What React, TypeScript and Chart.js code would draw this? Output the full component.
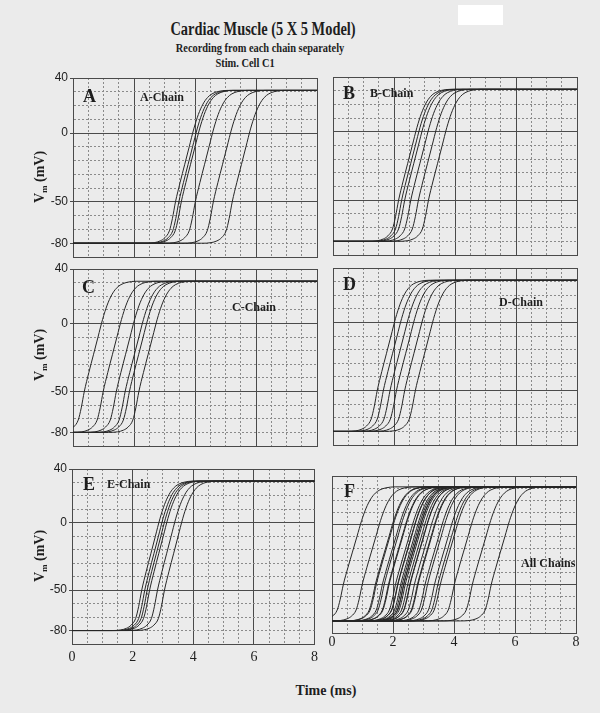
import React, { useEffect, useRef } from "react";
import { Chart, registerables } from "chart.js";
Chart.register(...registerables);

// ---------- data ----------
const TIME_MIN = 0;
const TIME_MAX = 8;
const TIME_STEP = 0.5;
const VM_MIN = -90;
const VM_MAX = 40;
const VM_STEP = 10;
const TIME_TICK_LABELS = [0, 2, 4, 6, 8];
const VM_TICK_LABELS = [40, 0, -50, -80];
const TIME_MAJOR_LINES = [0, 2, 4, 6, 8];
const VM_MAJOR_LINES = [40, 0, -50, -90];

const REST_MV = -80;
const PLATEAU_MV = 31;
// upstroke shape (time relative to the half-way crossing, ms) and membrane potential (mV)
const UPSTROKE_DT_MS = [-1.3, -1.0, -0.8, -0.65, -0.5, -0.4, -0.3, -0.15, 0, 0.15, 0.3, 0.45, 0.6, 0.75, 0.9, 1.1, 1.4];
const UPSTROKE_MV = [-80, -79.6, -78.3, -76, -71, -62, -50, -36, -23, -10, 3, 13.5, 21, 25.8, 28.5, 30.2, 31];

// half-way crossing time (ms) of each cell's upstroke, per chain
const A_CHAIN_TIMES = [3.66, 3.77, 3.85, 4.31, 4.9, 5.52];
const B_CHAIN_TIMES = [2.45, 2.55, 2.65, 2.85, 3.1, 3.43];
const C_CHAIN_TIMES = [0.67, 1.29, 1.72, 2.01, 2.15, 2.46];
const D_CHAIN_TIMES = [1.75, 1.95, 2.17, 2.38, 2.65, 3.0];
const E_CHAIN_TIMES = [2.6, 2.7, 2.78, 2.86, 3.12, 3.35];
const ALL_CHAIN_TIMES = [...A_CHAIN_TIMES, ...B_CHAIN_TIMES, ...C_CHAIN_TIMES, ...D_CHAIN_TIMES, ...E_CHAIN_TIMES];

// ---------- styles ----------
const BG = "#ebebeb";
const INK = "#1e1e1e";
const CURVE = "#262626";
const MAJOR_GRID = "#4a4a4a";
const MINOR_GRID = "#8a8a8a";
const SERIF = '"Liberation Serif", "Times New Roman", serif';
const SANS = '"Liberation Sans", Arial, sans-serif';

const PAD_L = 60;
const PAD_R = 8;
const PAD_T = 10;
const PAD_B = 26;

function buildSeries(t: number) {
  const pts: { x: number; y: number }[] = [];
  if (t + UPSTROKE_DT_MS[0] > TIME_MIN) pts.push({ x: TIME_MIN, y: REST_MV });
  UPSTROKE_DT_MS.forEach((dt, i) => pts.push({ x: t + dt, y: UPSTROKE_MV[i] }));
  pts.push({ x: TIME_MAX, y: PLATEAU_MV });
  return pts;
}

type Rect = { left: number; top: number; width: number; height: number };

function Panel(props: { times: number[]; rect: Rect; yLabels: boolean; xLabels: boolean; xPad: number }) {
  const ref = useRef<HTMLCanvasElement | null>(null);
  const { times, rect, yLabels, xLabels, xPad } = props;
  const w = rect.width + PAD_L + PAD_R;
  const h = rect.height + PAD_T + PAD_B;
  useEffect(() => {
    if (!ref.current) return;
    const isMajorX = (v: number) => TIME_MAJOR_LINES.includes(v);
    const isMajorY = (v: number) => VM_MAJOR_LINES.includes(v);
    const chart = new Chart(ref.current, {
      type: "line",
      data: {
        datasets: times.map((t) => ({
          data: buildSeries(t),
          borderColor: CURVE,
          borderWidth: 1,
          pointRadius: 0,
          fill: false,
          cubicInterpolationMode: "monotone" as const,
        })),
      },
      options: {
        animation: false,
        responsive: false,
        maintainAspectRatio: false,
        events: [],
        layout: { padding: { left: 0, right: PAD_R, top: PAD_T, bottom: 0 } },
        plugins: { legend: { display: false }, tooltip: { enabled: false }, title: { display: false } },
        scales: {
          x: {
            type: "linear",
            min: TIME_MIN,
            max: TIME_MAX,
            afterFit: (s: any) => {
              s.height = PAD_B;
            },
            ticks: {
              display: xLabels,
              stepSize: TIME_STEP,
              autoSkip: false,
              maxRotation: 0,
              padding: xPad,
              color: INK,
              font: { family: SERIF, size: 14 },
              callback: (v: any) => (TIME_TICK_LABELS.includes(Number(v)) ? String(v) : ""),
            },
            grid: {
              drawTicks: false,
              lineWidth: 1,
              color: (ctx: any) => (ctx.tick && isMajorX(ctx.tick.value) ? MAJOR_GRID : MINOR_GRID),
            },
            border: {
              display: true,
              color: MAJOR_GRID,
              dash: (ctx: any) => (ctx.type === "tick" && ctx.tick && !isMajorX(ctx.tick.value) ? [2, 2] : []),
            },
          },
          y: {
            type: "linear",
            min: VM_MIN,
            max: VM_MAX,
            afterFit: (s: any) => {
              s.width = PAD_L;
            },
            ticks: {
              display: yLabels,
              stepSize: VM_STEP,
              autoSkip: false,
              padding: 2,
              color: INK,
              font: { family: SANS, size: 12 },
              callback: (v: any) => (VM_TICK_LABELS.includes(Number(v)) ? String(v) : ""),
            },
            grid: {
              drawTicks: yLabels,
              tickLength: 3,
              tickColor: (ctx: any) => (ctx.tick && VM_TICK_LABELS.includes(ctx.tick.value) ? MAJOR_GRID : "rgba(0,0,0,0)"),
              lineWidth: 1,
              color: (ctx: any) => (ctx.tick && isMajorY(ctx.tick.value) ? MAJOR_GRID : MINOR_GRID),
            },
            border: {
              display: true,
              color: MAJOR_GRID,
              dash: (ctx: any) => (ctx.type === "tick" && ctx.tick && !isMajorY(ctx.tick.value) ? [2, 2] : []),
            },
          },
        },
      } as any,
    });
    return () => chart.destroy();
  }, []);
  return (
    <canvas
      ref={ref}
      width={w}
      height={h}
      style={{ position: "absolute", left: rect.left - PAD_L, top: rect.top - PAD_T, width: w, height: h }}
    />
  );
}

function Txt(props: { x: number; y: number; size: number; children: any; center?: boolean; sx?: number; bold?: boolean }) {
  const { x, y, size, center, sx = 1, bold = true } = props;
  return (
    <div
      style={{
        position: "absolute",
        left: x,
        top: y,
        transform: `translate(${center ? "-50%" : "0"}, -50%) scaleX(${sx})`,
        transformOrigin: center ? "50% 50%" : "0 50%",
        fontFamily: SERIF,
        fontWeight: bold ? 700 : 400,
        fontSize: size,
        lineHeight: 1,
        whiteSpace: "nowrap",
        color: INK,
      }}
    >
      {props.children}
    </div>
  );
}

function YTitle(props: { y: number }) {
  return (
    <div
      style={{
        position: "absolute",
        left: 41,
        top: props.y,
        transform: "translate(-50%, -50%) rotate(-90deg)",
        fontFamily: SERIF,
        fontWeight: 700,
        fontSize: 14,
        lineHeight: 1,
        whiteSpace: "nowrap",
        color: INK,
      }}
    >
      V<sub style={{ fontSize: 9 }}>m</sub> (mV)
    </div>
  );
}

export default function App() {
  return (
    <div style={{ position: "absolute", left: 0, top: 0, width: 600, height: 713, background: BG, overflow: "hidden" }}>
      <div style={{ position: "absolute", left: 458, top: 5, width: 45, height: 20, background: "#ffffff" }} />
      <Txt x={263} y={29} size={18} center sx={0.8}>Cardiac Muscle (5 X 5 Model)</Txt>
      <Txt x={260} y={47} size={13} center sx={0.8}>Recording from each chain separately</Txt>
      <Txt x={245} y={62} size={13} center sx={0.8}>Stim. Cell C1</Txt>

      <Panel times={A_CHAIN_TIMES} rect={{ left: 73, top: 78, width: 244, height: 179 }} yLabels xLabels={false} xPad={2} />
      <Panel times={B_CHAIN_TIMES} rect={{ left: 333, top: 77, width: 244, height: 178 }} yLabels={false} xLabels={false} xPad={2} />
      <Panel times={C_CHAIN_TIMES} rect={{ left: 73, top: 269, width: 244, height: 177 }} yLabels xLabels={false} xPad={2} />
      <Panel times={D_CHAIN_TIMES} rect={{ left: 333, top: 268, width: 244, height: 177 }} yLabels={false} xLabels={false} xPad={2} />
      <Panel times={E_CHAIN_TIMES} rect={{ left: 72, top: 469, width: 243, height: 175 }} yLabels xLabels xPad={5} />
      <Panel times={ALL_CHAIN_TIMES} rect={{ left: 332, top: 476, width: 244, height: 157 }} yLabels={false} xLabels xPad={1} />

      <Txt x={83} y={96} size={18}>A</Txt>
      <Txt x={140} y={97} size={12}>A-Chain</Txt>
      <Txt x={343} y={93} size={18}>B</Txt>
      <Txt x={370} y={93} size={12}>B-Chain</Txt>
      <Txt x={82} y={287} size={18}>C</Txt>
      <Txt x={232} y={307} size={12}>C-Chain</Txt>
      <Txt x={343} y={284} size={18}>D</Txt>
      <Txt x={499} y={302} size={12}>D-Chain</Txt>
      <Txt x={83} y={484} size={18}>E</Txt>
      <Txt x={107} y={484} size={12}>E-Chain</Txt>
      <Txt x={344} y={491} size={18}>F</Txt>
      <Txt x={521} y={563} size={12}>All Chains</Txt>

      <YTitle y={177} />
      <YTitle y={355} />
      <YTitle y={556} />
      <Txt x={326} y={691} size={14} center>Time (ms)</Txt>
    </div>
  );
}
